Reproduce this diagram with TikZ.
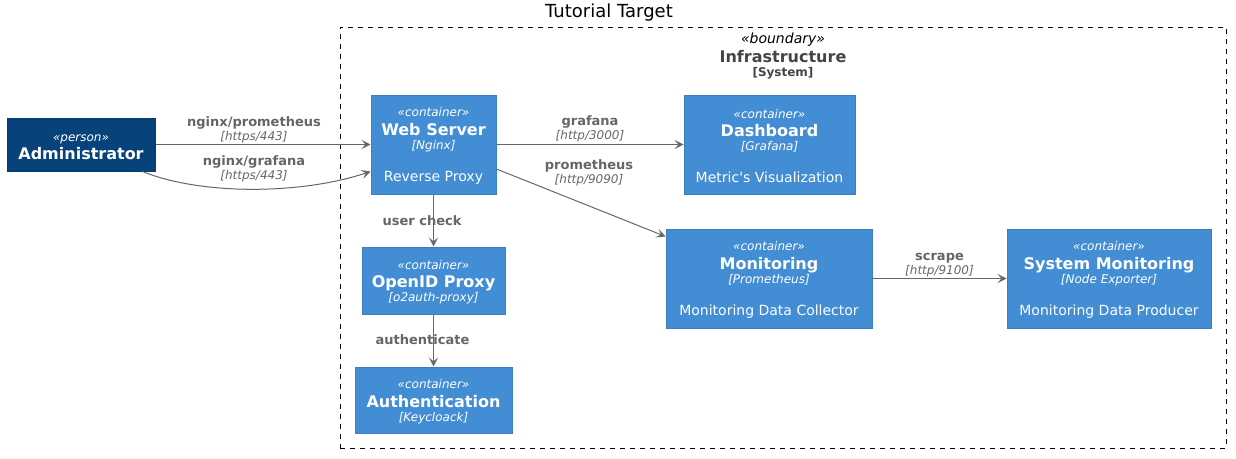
\documentclass[tikz,border=0pt]{standalone}
\usepackage{fontspec}
\setmainfont{DejaVu Sans}
\usetikzlibrary{positioning,arrows.meta}

\definecolor{personfill}{HTML}{08427B}
\definecolor{personline}{HTML}{073B6F}
\definecolor{containerfill}{HTML}{438DD5}
\definecolor{containerline}{HTML}{3C7FC0}
\definecolor{relgray}{HTML}{666666}
\definecolor{boundarygray}{HTML}{444444}

\newcommand\cstereo[1]{{\itshape\rule{0pt}{12pt}«#1»}}
\newcommand\cname[1]{{\fontsize{16}{14}\selectfont\bfseries #1}}
\newcommand\ctech[1]{{\itshape[#1]}}
\newcommand\cdesc[1]{{\fontsize{14}{14}\selectfont #1}}
\newcommand\rname[1]{{\fontsize{13}{14}\selectfont\bfseries #1}}

\begin{document}
\begin{tikzpicture}[
  x=1pt, y=-1pt,
  box/.style={
    draw,
    line width=1pt,
    text=white,
    align=center,
    inner sep=0pt,
    font=\fontsize{12}{14}\selectfont,
  },
  person/.style={box, fill=personfill, draw=personline},
  container/.style={
    box,
    fill=containerfill,
    draw=containerline,
    minimum height=99pt,
  },
  boundary/.style={
    draw,
    dashed,
    dash pattern=on 5pt off 5pt,
    line width=0.8pt,
    inner sep=0pt,
  },
  rel/.style={
    draw=relgray,
    line width=1pt,
    -{Stealth[length=9pt,width=9pt,inset=4pt]},
  },
  rel label/.style={
    text=relgray,
    align=center,
    inner sep=0pt,
    font=\fontsize{12}{14}\selectfont,
  },
  ]
  \setlength{\lineskiplimit}{-50pt}
  \useasboundingbox (0,0) rectangle (1236,458);

  \node[font=\fontsize{18}{20}\selectfont, inner sep=0pt] (title) at (609,12.3)
  {Tutorial Target};

  \node[boundary, minimum width=886pt, minimum height=421pt] (infra)
  at (783,237.5) {};
  \node[rel label, text=boundarygray, below=5pt of infra.north] (infra-label)
  {{\fontsize{14}{14}\selectfont\color{black}\cstereo{boundary}}\\[5pt]
    \cname{Infrastructure}\\
    {\bfseries [System]}};

  \node[person, minimum width=148pt, minimum height=53pt] (admin)
  at (81,144.5) {\cstereo{person}\\[4pt] \cname{Administrator}};

  \node[container, minimum width=125pt] (web-server) at (433.5,144.5)
  {\cstereo{container}\\[4.5pt] \cname{Web Server}\\ \ctech{Nginx}\\[18pt]
    \cdesc{Reverse Proxy}};
  \node[container, minimum width=171pt, right=187pt of web-server] (dashboard)
  {\cstereo{container}\\[4.5pt] \cname{Dashboard}\\ \ctech{Grafana}\\[18pt]
    \cdesc{Metric\textquotesingle s Visualization}};
  \node[container, minimum width=143pt, minimum height=67pt,
  below=52pt of web-server] (openid)
  {\cstereo{container}\\[4.5pt] \cname{OpenID Proxy}\\ \ctech{o2auth-proxy}};
  \node[container, minimum width=157pt, minimum height=66pt,
  below=52pt of openid] (auth)
  {\cstereo{container}\\[4.5pt] \cname{Authentication}\\ \ctech{Keycloack}};
  \node[container, minimum width=206pt] (monitoring) at (769,278.5)
  {\cstereo{container}\\[4.5pt] \cname{Monitoring}\\ \ctech{Prometheus}\\[18pt]
    \cdesc{Monitoring Data Collector}};
  \node[container, minimum width=204pt, right=134pt of monitoring] (sys-monitoring)
  {\cstereo{container}\\[4.5pt] \cname{System Monitoring}\\ \ctech{Node Exporter}\\[18pt]
    \cdesc{Monitoring Data Producer}};

  \draw[rel] (admin) -- node[rel label, above=1pt, pos=.458] (lbl-nginx-prom)
  {\rname{nginx/prometheus}\\ \ctech{https/443}} (web-server);
  \draw[rel] ([xshift=-13pt]admin.south east) .. controls (200,195) and (300,195)
  .. (web-server.west |- admin.south);
  \node[rel label] (lbl-nginx-graf) at (254,169)
  {\rname{nginx/grafana}\\ \ctech{https/443}};

  \draw[rel] (web-server) -- node[rel label, above=2pt] (lbl-grafana)
  {\rname{grafana}\\ \ctech{http/3000}} (dashboard);
  \draw[rel] ([yshift=-24.5pt]web-server.east) -- ([yshift=-8pt]monitoring.north west);
  \node[rel label] (lbl-prometheus) at (589,173)
  {\rname{prometheus}\\ \ctech{http/9090}};

  \draw[rel] (web-server) -- (openid);
  \node[rel label] (lbl-user-check) at (422,220.5) {\rname{user check}};
  \draw[rel] (openid) -- (auth);
  \node[rel label] (lbl-authenticate) at (422.5,339.5) {\rname{authenticate}};

  \draw[rel] (monitoring) -- node[rel label, above=1pt] (lbl-scrape)
  {\rname{scrape}\\ \ctech{http/9100}} (sys-monitoring);
\end{tikzpicture}
\end{document}
